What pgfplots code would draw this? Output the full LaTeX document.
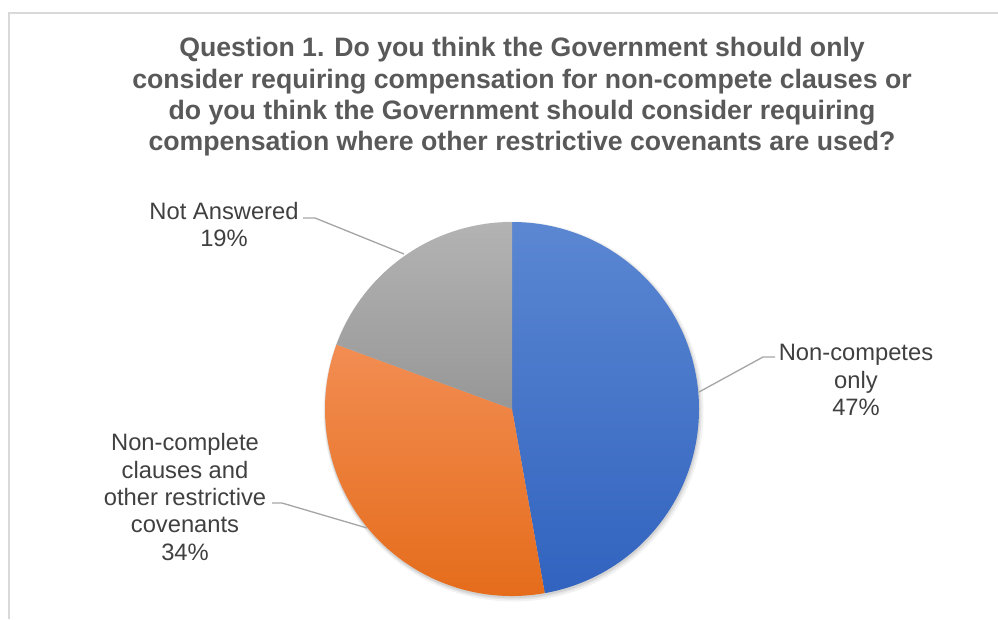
\documentclass[border=0pt]{standalone}
\usepackage{pgfplots}
\pgfplotsset{compat=1.18}
\usepackage{pgfplotstable}
\usepackage{fontspec}
\setmainfont{Liberation Sans}

\definecolor{titlegray}{HTML}{595959}
\definecolor{labgray}{HTML}{404040}
\definecolor{leadgray}{HTML}{A6A6A6}
\definecolor{bordgray}{HTML}{D9D9D9}
\definecolor{blueT}{HTML}{5B87D2}
\definecolor{blueB}{HTML}{3163BF}
\definecolor{orangeT}{HTML}{F28D52}
\definecolor{orangeB}{HTML}{E46A18}
\definecolor{grayT}{HTML}{B3B3B3}
\definecolor{grayB}{HTML}{979797}

\pgfplotstableread{
label value
NonCompetesOnly 47.2
ClausesAndOther 33.4
NotAnswered 19.4
}\piedata
\pgfplotstablegetelem{0}{value}\of\piedata\let\vA\pgfplotsretval%
\pgfplotstablegetelem{1}{value}\of\piedata\let\vB\pgfplotsretval%
\pgfplotstablegetelem{2}{value}\of\piedata\let\vC\pgfplotsretval%
\pgfmathsetmacro{\aS}{90}%
\pgfmathsetmacro{\aA}{\aS-3.6*\vA}%
\pgfmathsetmacro{\aB}{\aA-3.6*\vB}%
\pgfmathsetmacro{\aC}{\aB-3.6*\vC}%

\begin{document}%
\begin{tikzpicture}
\begin{axis}[
  x=0.75pt, y=0.75pt,
  xmin=-512, xmax=486, ymin=-210, ymax=409,
  hide axis, clip=false,
]
% border
\draw[bordgray, line width=1.1pt] (axis cs:-503,-210) -- (axis cs:-503,396) -- (axis cs:486,396);
% soft shadow
\fill[black, opacity=0.05] (axis cs:1.5,-2.5) circle[radius=142.5pt];
\fill[black, opacity=0.06] (axis cs:1,-2) circle[radius=141.5pt];
\fill[black, opacity=0.08] (axis cs:0.5,-1.5) circle[radius=140.8pt];
% slices
\addplot[draw=none, top color=blueT, bottom color=blueB, data cs=polar]
  coordinates {(0,0) (\aS,187)} arc[start angle=\aS, end angle=\aA, radius=140.25pt] -- cycle;
\addplot[draw=none, top color=orangeT, bottom color=orangeB, data cs=polar]
  coordinates {(0,0) (\aA,187)} arc[start angle=\aA, end angle=\aB, radius=140.25pt] -- cycle;
\addplot[draw=none, top color=grayT, bottom color=grayB, data cs=polar]
  coordinates {(0,0) (\aB,187)} arc[start angle=\aB, end angle=\aC, radius=140.25pt] -- cycle;
% leader lines
\addplot[leadgray, line width=1pt, mark=none] coordinates {(-209,191) (-197,191) (-108,155)};
\addplot[leadgray, line width=1pt, mark=none] coordinates {(263,52) (251,52) (187,17)};
\addplot[leadgray, line width=1pt, mark=none] coordinates {(-240,-94) (-230,-94) (-145,-119)};
% labels
\node[labgray, align=center, font=\fontsize{17.8}{20.6}\selectfont, inner sep=0pt] at (axis cs:-288,184.5) {Not Answered\\19\%};
\node[labgray, align=center, font=\fontsize{17.8}{20.6}\selectfont, inner sep=0pt] at (axis cs:344,29) {Non-competes\\only\\47\%};
\node[labgray, align=center, font=\fontsize{17.8}{20.6}\selectfont, inner sep=0pt] at (axis cs:-327,-88) {Non-complete\\clauses and\\other restrictive\\covenants\\34\%};
% title
\node[titlegray, align=center, font=\fontsize{20}{23.5}\selectfont\bfseries, inner sep=0pt] at (axis cs:10,312) {Question 1. Do you think the Government should only\\consider requiring compensation for non-compete clauses or\\do you think the Government should consider requiring\\compensation where other restrictive covenants are used?};
\coordinate (tl) at (axis cs:-512,409);
\coordinate (br) at (axis cs:486,-210);
\end{axis}
\pgfresetboundingbox
\path (tl) rectangle (br);
\end{tikzpicture}%
\end{document}
